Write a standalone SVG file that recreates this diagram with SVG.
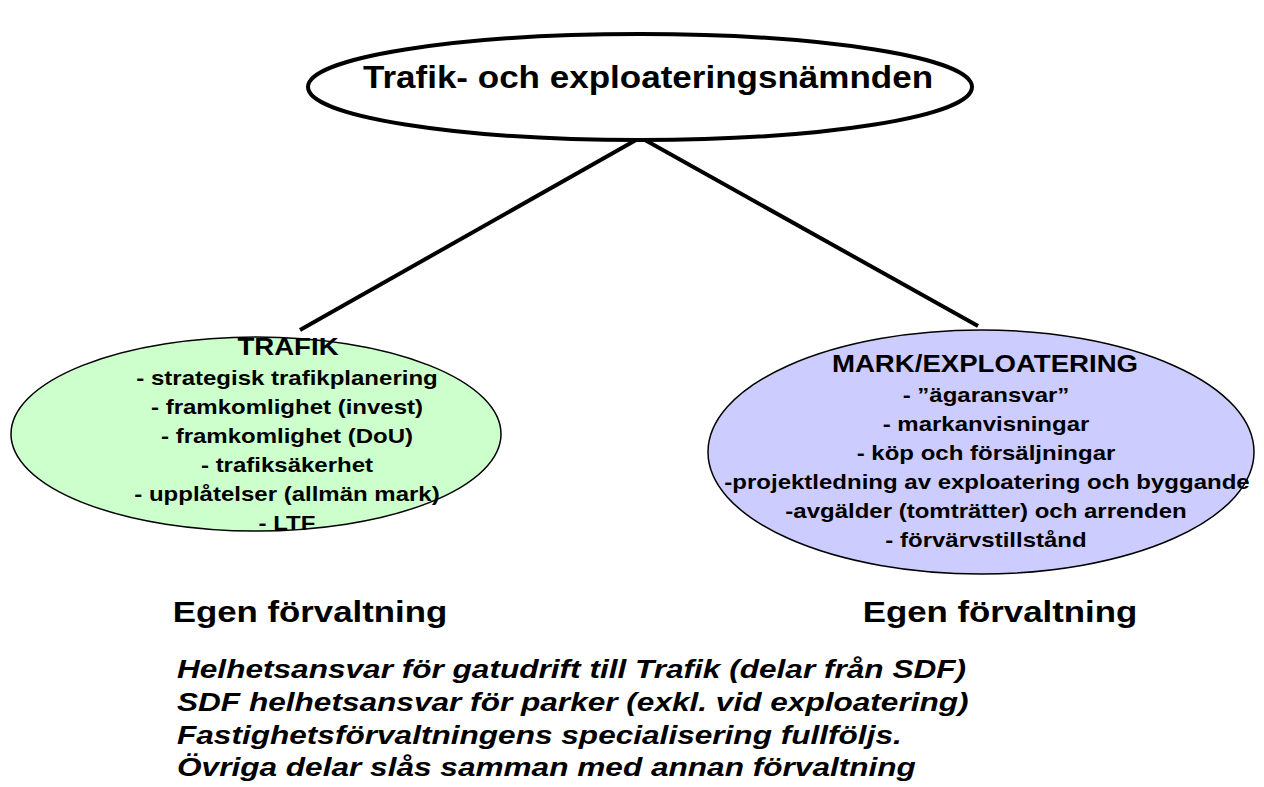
<svg xmlns="http://www.w3.org/2000/svg" width="1264" height="787" viewBox="0 0 1264 787">
  <style>
    text { font-family: "Liberation Sans", Arial, sans-serif; font-weight: bold; fill: #000; }
    .title { font-size: 31px; text-anchor: middle; }
    .item { font-size: 21px; text-anchor: middle; }
    .head { font-size: 24px; text-anchor: middle; }
    .org { font-size: 30px; text-anchor: middle; }
    .note { font-size: 26px; font-style: italic; }
    .edge { stroke: #000; stroke-width: 4; fill: none; }
  </style>
  <rect width="1264" height="787" fill="#fff"/>

  <g id="connectors">
    <line class="edge" x1="636" y1="140" x2="300" y2="330"/>
    <line class="edge" x1="645" y1="140" x2="978" y2="326"/>
  </g>

  <g id="node-board">
    <ellipse cx="640" cy="87" rx="332" ry="53" fill="#fff" stroke="#000" stroke-width="4"/>
    <text class="title" transform="translate(648 88) scale(1.13 1)">Trafik- och exploateringsnämnden</text>
  </g>

  <g id="node-trafik">
    <ellipse cx="256" cy="434" rx="245" ry="97" fill="#ccffcc" stroke="#000" stroke-width="1.5"/>
    <text class="head" transform="translate(288 355) scale(1.15 1)">TRAFIK</text>
    <text class="item" transform="translate(287 385) scale(1.143 1)">- strategisk trafikplanering</text>
    <text class="item" transform="translate(287 414) scale(1.143 1)">- framkomlighet (invest)</text>
    <text class="item" transform="translate(287 443) scale(1.143 1)">- framkomlighet (DoU)</text>
    <text class="item" transform="translate(287 472) scale(1.143 1)">- trafiksäkerhet</text>
    <text class="item" transform="translate(287 501) scale(1.143 1)">- upplåtelser (allmän mark)</text>
    <text class="item" transform="translate(287 530) scale(1.143 1)">- LTF</text>
  </g>

  <g id="node-mark">
    <ellipse cx="981" cy="452" rx="273" ry="122" fill="#ccccff" stroke="#000" stroke-width="1.5"/>
    <text class="head" transform="translate(985 372) scale(1.15 1)">MARK/EXPLOATERING</text>
    <text class="item" transform="translate(986 402) scale(1.143 1)">- ”ägaransvar”</text>
    <text class="item" transform="translate(986 431) scale(1.143 1)">- markanvisningar</text>
    <text class="item" transform="translate(986 460) scale(1.143 1)">- köp och försäljningar</text>
    <text class="item" transform="translate(987 489) scale(1.143 1)">-projektledning av exploatering och byggande</text>
    <text class="item" transform="translate(986 518) scale(1.143 1)">-avgälder (tomträtter) och arrenden</text>
    <text class="item" transform="translate(986 547) scale(1.143 1)">- förvärvstillstånd</text>
  </g>

  <g id="labels">
    <text class="org" transform="translate(310 622) scale(1.16 1)">Egen förvaltning</text>
    <text class="org" transform="translate(1000 622) scale(1.16 1)">Egen förvaltning</text>
  </g>

  <g id="notes">
    <text class="note" transform="translate(177 678) scale(1.215 1)">Helhetsansvar för gatudrift till Trafik (delar från SDF)</text>
    <text class="note" transform="translate(177 711) scale(1.215 1)">SDF helhetsansvar för parker (exkl. vid exploatering)</text>
    <text class="note" transform="translate(177 744) scale(1.215 1)">Fastighetsförvaltningens specialisering fullföljs.</text>
    <text class="note" transform="translate(177 776) scale(1.215 1)">Övriga delar slås samman med annan förvaltning</text>
  </g>
</svg>
